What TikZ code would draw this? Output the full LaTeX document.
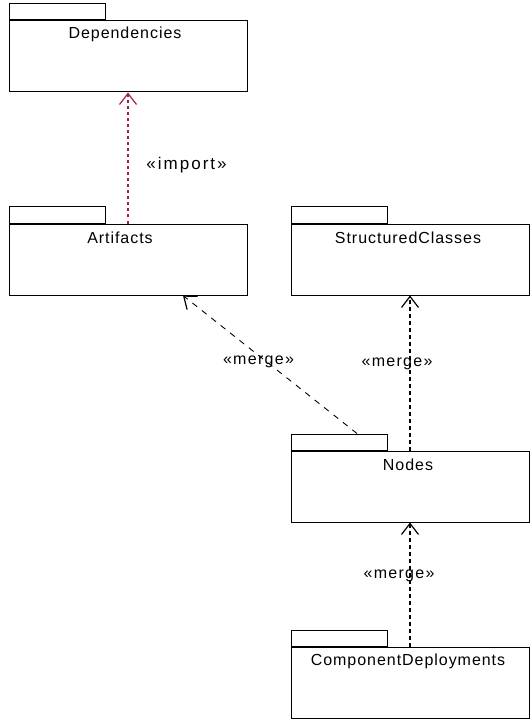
\documentclass[tikz,border=0pt]{standalone}
\usepackage{fontspec}
\setmainfont{Liberation Sans}
\usetikzlibrary{arrows.meta}
\definecolor{impcol}{RGB}{164,30,84}
\tikzset{
  pkgbody/.style={draw=black, line width=1pt, minimum width=238pt, minimum height=71pt, inner sep=0pt},
  pkgtab/.style={draw=black, line width=1pt, minimum width=96pt, minimum height=16pt, inner sep=0pt, anchor=south west},
  pkgname/.style={font=\fontsize{16}{18}\selectfont\addfontfeatures{LetterSpace=6}, anchor=center, inner sep=0pt},
  tip/.style={-{Straight Barb[length=11pt,width=17pt,line width=1.2pt]}},
  imp/.style={tip, draw=impcol, line width=1.2pt, dash pattern=on 3pt off 3pt},
  mrg/.style={tip, draw=black, line width=1.1pt, dash pattern=on 4pt off 3pt},
  mrgd/.style={tip, draw=black, line width=0.9pt, dash pattern=on 6pt off 6pt},
  lbl/.style={font=\fontsize{16}{18}\selectfont\addfontfeatures{LetterSpace=8}, inner sep=0pt},
  implbl/.style={font=\fontsize{17}{19}\selectfont\addfontfeatures{LetterSpace=12}, inner sep=0pt},
}
\begin{document}
\begin{tikzpicture}[x=1pt,y=-1pt]
\useasboundingbox (0,0) rectangle (530,719);
% Dependencies
\node[pkgbody] (dep) at (128,56.5) {};
\node[pkgtab] (deptab) at (dep.north west) {};
\node[pkgname] (depname) at (125,34.5) {Dependencies};
% Artifacts
\node[pkgbody] (art) at (128,259.5) {};
\node[pkgtab] (arttab) at (art.north west) {};
\node[pkgname] (artname) at (120,238) {Artifacts};
% StructuredClasses
\node[pkgbody] (sc) at (410,259.5) {};
\node[pkgtab] (sctab) at (sc.north west) {};
\node[pkgname] (scname) at (408,238) {StructuredClasses};
% Nodes
\node[pkgbody] (nod) at (410,486.5) {};
\node[pkgtab] (nodtab) at (nod.north west) {};
\node[pkgname] (nodname) at (408,465) {Nodes};
% ComponentDeployments
\node[pkgbody] (cd) at (410,683) {};
\node[pkgtab] (cdtab) at (cd.north west) {};
\node[pkgname] (cdname) at (408,661) {ComponentDeployments};
% connectors
\draw[imp] (art.north) -- (dep.south);
\node[implbl] (implabel) at (186.5,165.5) {«import»};
\draw[mrgd] ([xshift=18pt]nodtab.north) -- ([xshift=55pt]art.south);
\node[lbl] (m1) at (258.5,361.5) {«merge»};
\draw[mrg] (nod.north) -- (sc.south);
\node[lbl] (m2) at (397,364) {«merge»};
\draw[mrg] (cd.north) -- (nod.south);
\node[lbl] (m3) at (399,576) {«merge»};
\end{tikzpicture}
\end{document}
